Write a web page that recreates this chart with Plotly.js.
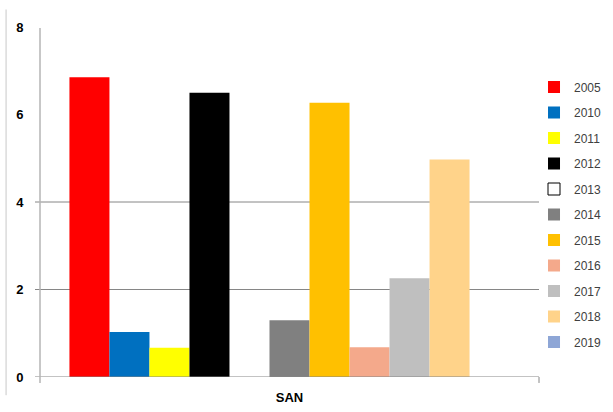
<!DOCTYPE html>
<html>
<head>
<meta charset="utf-8">
<script src="https://cdn.plot.ly/plotly-3.0.1.min.js"></script>
<style>html,body{margin:0;padding:0;background:#fff;}#chart{width:613px;height:412px;}</style>
</head>
<body>
<div id="chart"></div>
<script>
var categories = ["SAN"];
var seriesNames = ["2005","2010","2011","2012","2013","2014","2015","2016","2017","2018","2019"];
var seriesValues = [[6.85],[1.03],[0.67],[6.50],[null],[1.30],[6.27],[0.68],[2.26],[4.97],[0]];
var seriesColors = ["#FF0000","#0070C0","#FFFF00","#000000","#FFFFFF","#808080","#FFC000","#F4A98B","#BFBFBF","#FFD38A","#8EA6D6"];
var yTicks = [0,2,4,6,8];
var gridValues = [2,4];

var traces = seriesNames.map(function(n,i){
  return {
    type:"bar", name:n, x:categories, y:seriesValues[i],
    legendgroup:"g"+i,
    marker:{color:seriesColors[i], line:{color: n==="2013" ? "#000000" : seriesColors[i], width: n==="2013" ? 1 : 0}}
  };
});

var shapes = [];
gridValues.forEach(function(v){
  shapes.push({type:"line", xref:"paper", yref:"y", x0:-0.01, x1:1, y0:v, y1:v, line:{color:"#868686", width:1}, layer:"below"});
});
// zero line with small tick at right end
shapes.push({type:"line", xref:"paper", yref:"y", x0:-0.01, x1:1, y0:0, y1:0, line:{color:"#868686", width:1}});
shapes.push({type:"line", xref:"paper", yref:"paper", x0:1, x1:1, y0:0, y1:-0.017, line:{color:"#868686", width:1}});
// y axis line
shapes.push({type:"line", xref:"paper", yref:"paper", x0:0, x1:0, y0:-0.017, y1:0.997, line:{color:"#B4B4B4", width:1.5}});
// outer left frame line
shapes.push({type:"line", xref:"paper", yref:"paper", x0:-0.068, x1:-0.068, y0:-0.052, y1:1.05, line:{color:"#C8C8C8", width:1}});

var layout = {
  width:613, height:412,
  margin:{l:40, r:74, t:27, b:35, autoexpand:false},
  paper_bgcolor:"#fff", plot_bgcolor:"#fff",
  barmode:"group", bargap:0.118, bargroupgap:0,
  showlegend:true,
  legend:{x:0.99, xanchor:"left", y:0.87, yanchor:"top", tracegroupgap:6.5, itemwidth:30,
          font:{family:"Liberation Sans, Arial, sans-serif", size:12, color:"#404040"}, bgcolor:"rgba(0,0,0,0)"},
  xaxis:{showgrid:false, showline:false, zeroline:false, ticks:"outside", ticklen:8, tickcolor:"rgba(0,0,0,0)",
         tickfont:{family:"Liberation Sans, Arial, sans-serif", size:13, color:"#000", weight:"bold"}},
  yaxis:{range:[0,8], tickvals:yTicks, showgrid:false, zeroline:false, showline:false,
         ticks:"outside", ticklen:13, tickcolor:"rgba(0,0,0,0)",
         tickfont:{family:"Liberation Sans, Arial, sans-serif", size:13, color:"#000", weight:"bold"}},
  shapes:shapes
};
Plotly.newPlot("chart", traces, layout, {displayModeBar:false, staticPlot:true});
</script>
</body>
</html>
